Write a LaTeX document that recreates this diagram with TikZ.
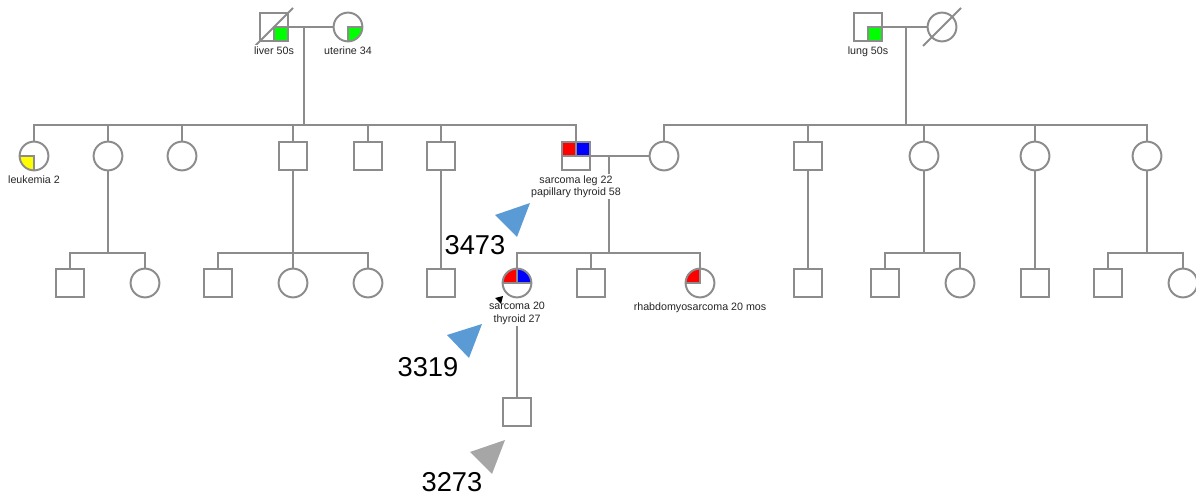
\documentclass[tikz,border=0pt]{standalone}
\usepackage{fontspec}
\setmainfont{Liberation Sans}
\usetikzlibrary{positioning, calc}
\definecolor{pedgray}{HTML}{8C8C8C}
\definecolor{pedgreen}{HTML}{00FF00}
\definecolor{pedred}{HTML}{FF0000}
\definecolor{pedblue}{HTML}{0000FF}
\definecolor{pedyellow}{HTML}{FFFF00}
\definecolor{tagblue}{HTML}{5B9BD5}
\definecolor{taggray}{HTML}{A6A6A6}
\tikzset{
    ped/.style={draw=pedgray, line width=1.4pt, fill=white, minimum size=0.72cm, inner sep=0pt},
    male/.style={ped, rectangle},
    female/.style={ped, circle},
    link/.style={draw=pedgray, line width=1.4pt},
    qbr/.style={path picture={\filldraw[fill=#1, draw=pedgray, line width=1pt]
        (path picture bounding box.center) rectangle (path picture bounding box.south east);}},
    qbl/.style={path picture={\filldraw[fill=#1, draw=pedgray, line width=1pt]
        (path picture bounding box.center) rectangle (path picture bounding box.south west);}},
    qtl/.style={path picture={\filldraw[fill=#1, draw=pedgray, line width=1pt]
        (path picture bounding box.center) rectangle (path picture bounding box.north west);}},
    halves/.style 2 args={path picture={
        \filldraw[fill=#1, draw=pedgray, line width=1pt]
        (path picture bounding box.center) rectangle (path picture bounding box.north west);
        \filldraw[fill=#2, draw=pedgray, line width=1pt]
        (path picture bounding box.center) rectangle (path picture bounding box.north east);
        \draw[pedgray, line width=1pt] (path picture bounding box.west) -- (path picture bounding box.east);}},
    lbl/.style={font=\fontsize{7.6}{8.6}\selectfont, text=black!85, align=center, inner sep=1pt, fill=white},
    tagnum/.style={font=\fontsize{19.4}{22}\selectfont, inner sep=0pt}
}
\begin{document}
\begin{tikzpicture}[x=0.025cm, y=-0.025cm]
    \useasboundingbox (0,0) rectangle (1196,498);

    \node[male, qbr=pedgreen] (gpm) at (274,27) {};
    \node[female, qbr=pedgreen] (gpf) at (348,27) {};
    \node[male, qbr=pedgreen] (gpm2) at (868,27) {};
    \node[female] (gpf2) at (942,27) {};
    \draw[link] ($(gpm)+(-19,19)$) -- ($(gpm)+(19,-19)$);
    \draw[link] ($(gpf2)+(-19,19)$) -- ($(gpf2)+(19,-19)$);

    \node[female, qbl=pedyellow] (k1) at (34,156) {};
    \node[female] (k2) at (108,156) {};
    \node[female] (k3) at (182,156) {};
    \node[male] (k4) at (293,156) {};
    \node[male] (k5) at (368,156) {};
    \node[male] (k6) at (441,156) {};
    \node[male, halves={pedred}{pedblue}] (k7) at (576,156) {};
    \node[female] (sp) at (664,156) {};
    \node[male] (r1) at (808,156) {};
    \node[female] (r2) at (924,156) {};
    \node[female] (r3) at (1035,156) {};
    \node[female] (r4) at (1147,156) {};

    \node[male] (g1) at (70,283) {};
    \node[female] (g2) at (145,283) {};
    \node[male] (g3) at (218,283) {};
    \node[female] (g4) at (293,283) {};
    \node[female] (g5) at (368,283) {};
    \node[male] (g6) at (441,283) {};
    \node[female, halves={pedred}{pedblue}] (g7) at (517,283) {};
    \node[male] (g8) at (591,283) {};
    \node[female, qtl=pedred] (g9) at (700,283) {};
    \node[male] (g10) at (808,283) {};
    \node[male] (g11) at (885,283) {};
    \node[female] (g12) at (960,283) {};
    \node[male] (g13) at (1035,283) {};
    \node[male] (g14) at (1108,283) {};
    \node[female] (g15) at (1183,283) {};

    \node[male] (h1) at (517,412) {};

    \coordinate (c1) at (304,27);
    \coordinate (s1) at (304,125);
    \coordinate (c2) at (906,27);
    \coordinate (s2) at (906,125);
    \coordinate (c3) at (609,156);
    \coordinate (s3) at (609,253);
    \coordinate (s4) at (108,253);
    \coordinate (s5) at (293,253);
    \coordinate (s6) at (924,253);
    \coordinate (s7) at (1147,253);

    \draw[link] (gpm) -- (gpf);
    \draw[link] (gpm2) -- (gpf2);
    \draw[link] (k7) -- (sp);
    \draw[link] (c1) -- (s1);
    \draw[link] (c2) -- (s2);
    \draw[link] (c3) -- (s3);
    \draw[link] (k1.north) |- (s1) -| (k7.north);
    \foreach \k in {k2,k3,k4,k5,k6}
        \draw[link] (\k) -- (\k |- s1);
    \draw[link] (sp.north) |- (s2) -| (r4.north);
    \foreach \k in {r1,r2,r3}
        \draw[link] (\k) -- (\k |- s2);

    \draw[link] (k2) -- (s4);
    \draw[link] (g1.north) |- (s4) -| (g2.north);
    \draw[link] (k4) -- (g4);
    \draw[link] (g3.north) |- (s5) -| (g5.north);
    \draw[link] (k6) -- (g6);
    \draw[link] (g7.north) |- (s3) -| (g9.north);
    \draw[link] (g8) -- (g8 |- s3);
    \draw[link] (r1) -- (g10);
    \draw[link] (r2) -- (s6);
    \draw[link] (g11.north) |- (s6) -| (g12.north);
    \draw[link] (r3) -- (g13);
    \draw[link] (r4) -- (s7);
    \draw[link] (g14.north) |- (s7) -| (g15.north);

    \node[lbl, below=0.06cm of gpm] {liver 50s};
    \node[lbl, below=0.06cm of gpf] {uterine 34};
    \node[lbl, below=0.06cm of gpm2] {lung 50s};
    \node[lbl, below=0.06cm of k1] {leukemia 2};
    \node[lbl, below=0.06cm of k7] {sarcoma leg 22\\papillary thyroid 58};
    \node[lbl, below=0.06cm of g7] (lbl7) {sarcoma 20\\thyroid 27};
    \node[lbl, below=0.06cm of g9] {rhabdomyosarcoma 20 mos};
    \draw[link] (lbl7) -- (h1);
    \fill[black] (495,298) -- (503,296) -- (501,304) -- cycle;

    \fill[tagblue] (495,215) -- (530,203) -- (517,237) -- cycle;
    \node[tagnum] (n3473) at (475,245) {3473};
    \fill[tagblue] (447,335) -- (482,324) -- (469,358) -- cycle;
    \node[tagnum] (n3319) at (428,367) {3319};
    \fill[taggray] (470,452) -- (505,440) -- (492,474) -- cycle;
    \node[tagnum] (n3273) at (452,482) {3273};
\end{tikzpicture}
\end{document}
